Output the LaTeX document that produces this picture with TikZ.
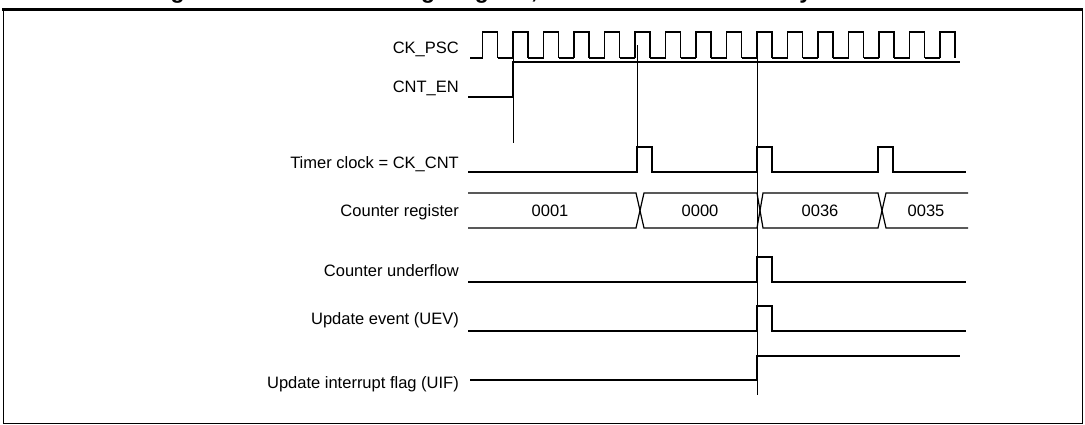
\documentclass[tikz,border=0pt]{standalone}
\usepackage{fontspec}
\setmainfont{Liberation Sans}
\begin{document}
\begin{tikzpicture}[x=1pt,y=-1pt,
  sig/.style={line width=1.2pt},
  mk/.style={line width=0.6pt},
  lab/.style={anchor=base east,inner sep=0pt,font=\fontsize{16.5}{17}\selectfont},
  val/.style={anchor=base,inner sep=0pt,font=\fontsize{16.5}{17}\selectfont}]
\useasboundingbox (0,0) rectangle (1085,424);
\begin{scope}
\clip (0,0) rectangle (1085,424);
\node[anchor=base west,inner sep=0pt,font=\bfseries\fontsize{23}{24}\selectfont] (title) at (150,-1.5) {Figure 96.\ \ Counter timing diagram, internal clock divided by 4};
\end{scope}
\draw[line width=3pt] (2,9) -- (1083,9);
\draw[line width=1pt] (3,9) -- (3,424) (1082,9) -- (1082,424) (3,423.5) -- (1082,423.5);
% labels
\node[lab] (l1) at (459,53) {CK\_PSC};
\node[lab] (l2) at (459,92) {CNT\_EN};
\node[lab] (l3) at (459,168) {Timer clock = CK\_CNT};
\node[lab] (l4) at (459,216) {Counter register};
\node[lab] (l5) at (459,276) {Counter underflow};
\node[lab] (l6) at (459,324) {Update event (UEV)};
\node[lab] (l7) at (459,388) {Update interrupt flag (UIF)};
% marker lines
\draw[mk] (513,45) -- (513,143);
\draw[mk] (637,45) -- (637,172);
\draw[mk] (757,45) -- (757,395);
% CK_PSC
\draw[sig] (470,58) -- (482.5,58);
\foreach \k in {-1,...,14}{
  \pgfmathsetmacro{\r}{513+30.5*\k}
  \draw[sig] (\r,58) -- (\r,32) -- (\r+15,32) -- (\r+15,58);
}
\foreach \k in {-1,...,13}{
  \pgfmathsetmacro{\r}{513+30.5*\k}
  \draw[sig] (\r+15,58) -- (\r+30.5,58);
}
% CNT_EN
\draw[sig] (468,97) -- (513,97) -- (513,62) -- (960,62);
% Timer clock
\draw[sig] (468,172) -- (637,172) -- (637,147) -- (652,147) -- (652,172) -- (757,172) -- (757,147) -- (772,147) -- (772,172) -- (878,172) -- (878,147) -- (893,147) -- (893,172) -- (966,172);
% Counter register
\draw[sig] (468,193) -- (636,193) -- (644,228) -- (757,228) -- (763,193) -- (878,193) -- (886,228) -- (968,228);
\draw[sig] (468,228) -- (636,228) -- (644,193) -- (757,193) -- (763,228) -- (878,228) -- (886,193) -- (968,193);
\node[val] (v1) at (550,216) {0001};
\node[val] (v2) at (700,216) {0000};
\node[val] (v3) at (820,216) {0036};
\node[val] (v4) at (926,216) {0035};
% underflow
\draw[sig] (468,282) -- (757,282) -- (757,257) -- (772,257) -- (772,282) -- (966,282);
% UEV
\draw[sig] (468,331) -- (757,331) -- (757,306) -- (772,306) -- (772,331) -- (966,331);
% UIF
\draw[sig] (470,380) -- (757,380) -- (757,356) -- (960,356);
\end{tikzpicture}
\end{document}
